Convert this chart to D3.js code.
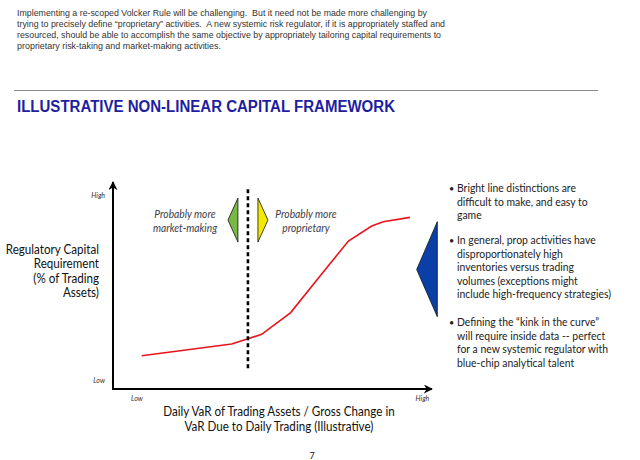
<!DOCTYPE html>
<html>
<head>
<meta charset="utf-8">
<script src="https://cdn.jsdelivr.net/npm/d3@7"></script>
<style>
  body { margin: 0; background: #fff; }
  svg { display: block; }
</style>
</head>
<body>
<div id="chart"></div>
<script>
// curve: x = trading VaR measure, y = capital requirement (both 0..100, Low..High)
const curveX = [9.0, 37.2, 46.6, 55.7, 63.9, 73.8, 81.1, 84.7, 93.1];
const curveY = [16.1, 21.7, 26.4, 36.9, 52.7, 71.5, 78.7, 80.8, 82.9];
const kinkX = 42.3;

const xTickLabels = ["Low", "High"];
const xTickValues = [7.5, 97];
const yTickLabels = ["Low", "High"];
const yTickValues = [4.3, 93.7];

const introLines = [
  "Implementing a re-scoped Volcker Rule will be challenging.  But it need not be made more challenging by",
  "trying to precisely define \u201cproprietary\u201d activities.  A new systemic risk regulator, if it is appropriately staffed and",
  "resourced, should be able to accomplish the same objective by appropriately tailoring capital requirements to",
  "proprietary risk-taking and market-making activities."
];
const introWidths = [410, 428, 424, 204];

const yTitle = ["Regulatory Capital", "Requirement", "(% of Trading", "Assets)"];
const xTitle = ["Daily VaR of Trading Assets / Gross Change in", "VaR Due to Daily Trading (Illustrative)"];
const leftNote = ["Probably more", "market-making"];
const rightNote = ["Probably more", "proprietary"];

const bullets = [
  ["Bright line distinctions are", "difficult to make, and easy to", "game"],
  ["In general, prop activities have", "disproportionately high", "inventories versus trading",
   "volumes (exceptions might", "include high-frequency strategies)"],
  ["Defining the \u201ckink in the curve\u201d", "will require inside data -- perfect",
   "for a new systemic regulator with", "blue-chip analytical talent"]
];

const width = 640, height = 460;
const gill = "Lato, 'Open Sans', sans-serif";
const squeeze = 0.93;

const svg = d3.select("#chart").append("svg")
  .attr("width", width)
  .attr("height", height);

// condense a text element horizontally to a fraction of its natural width
function condense(sel, k) {
  sel.each(function () {
    const w = this.getComputedTextLength();
    d3.select(this).attr("textLength", w * k).attr("lengthAdjust", "spacingAndGlyphs");
  });
}

// intro paragraph
svg.selectAll(".intro")
  .data(introLines)
  .enter().append("text")
  .attr("class", "intro")
  .attr("x", 17)
  .attr("y", (d, i) => 16 + i * 11)
  .attr("font-family", "'Liberation Sans', Arial, sans-serif")
  .attr("font-size", 9.4)
  .attr("fill", "#333")
  .attr("textLength", (d, i) => introWidths[i])
  .attr("lengthAdjust", "spacingAndGlyphs")
  .style("white-space", "pre")
  .text(d => d);

svg.append("line")
  .attr("x1", 14).attr("x2", 598)
  .attr("y1", 90.5).attr("y2", 90.5)
  .attr("stroke", "#8a8a8a").attr("stroke-width", 1);

svg.append("text")
  .attr("x", 17)
  .attr("y", 112)
  .attr("font-family", "'Liberation Sans', Arial, sans-serif")
  .attr("font-weight", "bold")
  .attr("font-size", 16)
  .attr("fill", "#1e1ea0")
  .attr("textLength", 378)
  .attr("lengthAdjust", "spacingAndGlyphs")
  .text("ILLUSTRATIVE NON-LINEAR CAPITAL FRAMEWORK");

// scales
const x = d3.scaleLinear().domain([0, 100]).range([113, 432]);
const y = d3.scaleLinear().domain([0, 100]).range([389, 182]);

const defs = svg.append("defs");
defs.append("marker")
  .attr("id", "arrow")
  .attr("viewBox", "0 0 10 10")
  .attr("refX", 9).attr("refY", 5)
  .attr("markerWidth", 4.5).attr("markerHeight", 4.5)
  .attr("orient", "auto")
  .append("path")
  .attr("d", "M0,0 L10,5 L0,10 L3,5 Z")
  .attr("fill", "#000");

// axes
svg.append("line")
  .attr("x1", x(0)).attr("y1", y(0))
  .attr("x2", x(0)).attr("y2", y(100))
  .attr("stroke", "#000").attr("stroke-width", 2)
  .attr("marker-end", "url(#arrow)");
svg.append("line")
  .attr("x1", x(0) - 1).attr("y1", y(0))
  .attr("x2", x(100)).attr("y2", y(0))
  .attr("stroke", "#000").attr("stroke-width", 2)
  .attr("marker-end", "url(#arrow)");

svg.selectAll(".xtick")
  .data(xTickLabels)
  .enter().append("text")
  .attr("class", "xtick")
  .attr("x", (d, i) => x(xTickValues[i]))
  .attr("y", y(0) + 12)
  .attr("text-anchor", "middle")
  .attr("font-family", gill)
  .attr("font-style", "italic")
  .attr("font-size", 7)
  .attr("fill", "#333")
  .text(d => d);

svg.selectAll(".ytick")
  .data(yTickLabels)
  .enter().append("text")
  .attr("class", "ytick")
  .attr("x", x(0) - 8)
  .attr("y", (d, i) => y(yTickValues[i]) + 2.5)
  .attr("text-anchor", "end")
  .attr("font-family", gill)
  .attr("font-style", "italic")
  .attr("font-size", 7)
  .attr("fill", "#333")
  .text(d => d);

// axis titles
svg.selectAll(".ytitle")
  .data(yTitle)
  .enter().append("text")
  .attr("class", "ytitle")
  .attr("x", 99)
  .attr("y", (d, i) => 254 + i * 14.3)
  .attr("text-anchor", "end")
  .attr("font-family", gill)
  .attr("font-size", 12.5)
  .attr("fill", "#111")
  .text(d => d)
  .call(condense, squeeze);

svg.selectAll(".xtitle")
  .data(xTitle)
  .enter().append("text")
  .attr("class", "xtitle")
  .attr("x", 279)
  .attr("y", (d, i) => 416 + i * 15)
  .attr("text-anchor", "middle")
  .attr("font-family", gill)
  .attr("font-size", 12.5)
  .attr("fill", "#111")
  .text(d => d)
  .call(condense, squeeze);

// curve
const pts = curveX.map((v, i) => [v, curveY[i]]);
svg.append("path")
  .datum(pts)
  .attr("fill", "none")
  .attr("stroke", "#e8141c")
  .attr("stroke-width", 1.6)
  .attr("d", d3.line().x(d => x(d[0])).y(d => y(d[1])));

// dividing line
svg.append("line")
  .attr("x1", x(kinkX)).attr("x2", x(kinkX))
  .attr("y1", y(10)).attr("y2", y(97.5))
  .attr("stroke", "#000").attr("stroke-width", 2.6)
  .attr("stroke-dasharray", "4,3");

// direction pointers
const kx = x(kinkX);
const ay = y(81.6);
svg.append("path")
  .attr("d", `M${kx - 10},${ay - 22} L${kx - 20},${ay} L${kx - 10},${ay + 22} Z`)
  .attr("fill", "#78b843").attr("stroke", "#111").attr("stroke-width", 0.8);
svg.append("path")
  .attr("d", `M${kx + 10},${ay - 22} L${kx + 20},${ay} L${kx + 10},${ay + 22} Z`)
  .attr("fill", "#f4ea00").attr("stroke", "#111").attr("stroke-width", 0.8);

svg.append("path")
  .attr("d", "M437.3,221.7 L416.7,269.5 L437.3,316.7 Z")
  .attr("fill", "#0a3fa8").attr("stroke", "#111").attr("stroke-width", 0.8);

function note(lines, cx) {
  svg.append("g").selectAll("text")
    .data(lines)
    .enter().append("text")
    .attr("x", cx)
    .attr("y", (d, i) => ay - 2 + i * 14)
    .attr("text-anchor", "middle")
    .attr("font-family", gill)
    .attr("font-style", "italic")
    .attr("font-size", 11)
    .attr("fill", "#3b3b48")
    .text(d => d)
    .call(condense, squeeze);
}
note(leftNote, 185);
note(rightNote, 306);

// bullets
const bulletTop = [192, 244, 326];
bullets.forEach((lines, b) => {
  const g = svg.append("g");
  g.append("text")
    .attr("x", 449)
    .attr("y", bulletTop[b])
    .attr("font-family", gill)
    .attr("font-size", 9)
    .attr("fill", "#222")
    .text("\u2022");
  g.selectAll(".bl")
    .data(lines)
    .enter().append("text")
    .attr("class", "bl")
    .attr("x", 457)
    .attr("y", (d, i) => bulletTop[b] + i * 13.6)
    .attr("font-family", gill)
    .attr("font-size", 11.2)
    .attr("fill", "#222")
    .text(d => d)
    .call(condense, squeeze);
});

svg.append("text")
  .attr("x", 312)
  .attr("y", 459)
  .attr("text-anchor", "middle")
  .attr("font-family", gill)
  .attr("font-size", 9)
  .attr("fill", "#111")
  .text("7");
</script>
</body>
</html>
